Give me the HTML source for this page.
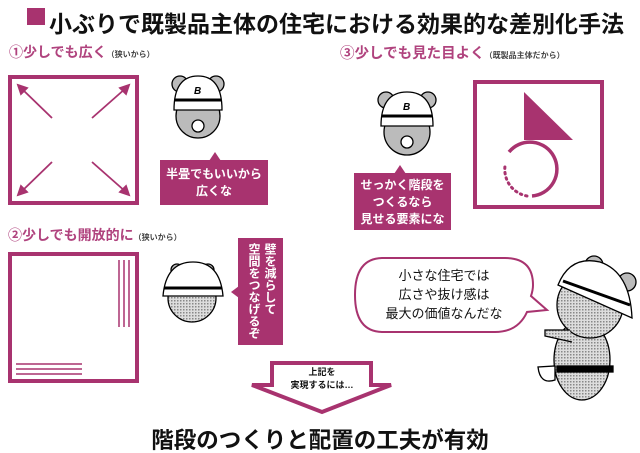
<!DOCTYPE html>
<html><head><meta charset="utf-8"><style>
body{margin:0;background:#fff;}
#c{position:relative;width:640px;height:453px;overflow:hidden;font-family:"Liberation Sans","Noto Sans CJK JP",sans-serif;}
.t{position:absolute;white-space:nowrap;}
</style></head><body><div id="c">
<svg width="640" height="453" style="position:absolute;left:0;top:0">
<defs>
<pattern id="ck" width="3" height="3" patternUnits="userSpaceOnUse"><rect width="3" height="3" fill="#ddd"/><rect width="1.5" height="1.5" fill="#888"/></pattern>
</defs>
<rect x="27" y="8" width="18" height="17" fill="#a8336f"/>
<rect x="10" y="77" width="127" height="126" fill="none" stroke="#a8336f" stroke-width="4"/>
<g stroke="#a8336f" stroke-width="1.8" fill="#a8336f">
<line x1="52" y1="118" x2="21" y2="88"/><line x1="92" y1="118" x2="126" y2="88"/>
<line x1="52" y1="162" x2="21" y2="192"/><line x1="92" y1="162" x2="126" y2="192"/>
<polygon points="18,85 27,88 21,94"/><polygon points="129,85 120,88 126,94"/>
<polygon points="18,195 27,192 21,186"/><polygon points="129,195 120,192 126,186"/>
</g>
<rect x="160" y="160" width="108" height="45" fill="#a8336f"/><polygon points="209,161 221,161 215,152" fill="#a8336f"/>
<g stroke="#000" stroke-width="1.3">
<circle cx="180" cy="84" r="8" fill="#bbb"/><circle cx="216" cy="84" r="8" fill="#bbb"/>
<circle cx="198" cy="116" r="22" fill="#bbb"/>
<path d="M174 110 Q174 76 198 76 Q222 76 222 110 Z" fill="#fff"/>
<line x1="175" y1="100" x2="221" y2="100" stroke-width="3"/>
<circle cx="198" cy="126" r="6" fill="#fff"/>
</g>
<text x="194" y="94" font-size="10" font-weight="bold" font-style="italic">B</text>
<g stroke="#000" stroke-width="1.3">
<circle cx="386" cy="100" r="8" fill="#bbb"/><circle cx="428" cy="100" r="8" fill="#bbb"/>
<circle cx="407" cy="132" r="23" fill="#bbb"/>
<path d="M381 126 Q381 92 407 92 Q433 92 433 126 Z" fill="#fff"/>
<line x1="382" y1="116" x2="432" y2="116" stroke-width="3"/>
<circle cx="407" cy="142" r="6" fill="#fff"/>
</g>
<text x="403" y="110" font-size="10" font-weight="bold" font-style="italic">B</text>
<rect x="354" y="173" width="97" height="57" fill="#a8336f"/><polygon points="394,174 406,174 400,165" fill="#a8336f"/>
<rect x="475" y="82" width="127" height="125" fill="none" stroke="#a8336f" stroke-width="4"/>
<polygon points="524,92 573,140 524,140" fill="#a8336f"/>
<path d="M509 152 A27 27 0 1 1 532 196" fill="none" stroke="#a8336f" stroke-width="3.5"/>
<path d="M527 196 A27 27 0 0 1 505 166" fill="none" stroke="#a8336f" stroke-width="3" stroke-dasharray="1.5 4" stroke-linecap="round"/>
<rect x="10" y="254" width="127" height="127" fill="none" stroke="#a8336f" stroke-width="4"/>
<g stroke="#a8336f" stroke-width="1.5"><line x1="119" y1="260" x2="119" y2="327"/><line x1="124" y1="260" x2="124" y2="327"/><line x1="129" y1="260" x2="129" y2="327"/>
<line x1="16" y1="364" x2="82" y2="364"/><line x1="16" y1="369" x2="82" y2="369"/><line x1="16" y1="374" x2="82" y2="374"/></g>
<g stroke="#000" stroke-width="1.3">
<circle cx="177" cy="270" r="6" fill="#bbb"/><circle cx="208" cy="270" r="6" fill="#bbb"/>
<ellipse cx="192" cy="298" rx="24" ry="24" fill="url(#ck)"/>
<path d="M163 296 Q166 262 193 262 Q220 262 223 296 Z" fill="#fff"/>
<line x1="164" y1="288" x2="222" y2="288" stroke-width="3"/>
</g>
<rect x="238" y="238" width="45" height="107" fill="#a8336f"/><polygon points="239,286 239,298 231,292" fill="#a8336f"/>
<path d="M383 258 L505 258 Q533 258 533 285 Q533 290 531 296 L547 310 L527 312 Q518 332 495 332 L383 332 Q355 332 355 295 Q355 258 383 258 Z" fill="#fff" stroke="#a8336f" stroke-width="2"/>
<g stroke="#000" stroke-width="1.3">
<ellipse cx="582" cy="360" rx="28" ry="40" fill="url(#ck)"/>
<circle cx="594" cy="265" r="9" fill="#bbb"/><circle cx="627" cy="282" r="9" fill="#bbb"/>
<circle cx="590" cy="305" r="33" fill="url(#ck)"/>
<path d="M558 285 Q570 255 600 262 Q630 272 632 318 Z" fill="#fff"/>
<line x1="563" y1="281" x2="630" y2="305" stroke-width="3"/>
<path d="M570 330 L545 330 L545 336 L572 342" fill="url(#ck)"/>
<rect x="557" y="366" width="56" height="6" fill="#000"/>
<path d="M538 367 Q540 385 555 380 L555 366 Z" fill="#fff"/>
</g>
<polygon points="272,363 371,363 371,385 391,385 322,412 252,385 272,385" fill="#fff" stroke="#a8336f" stroke-width="4" stroke-linejoin="miter"/>
</svg>
<div class="t" style="left:49px;top:5px;font-size:23px;font-weight:bold;color:#111;">小ぶりで既製品主体の住宅における効果的な差別化手法</div>
<div class="t" style="left:9px;top:42px;font-size:14px;font-weight:bold;color:#b0437e;">①少しでも広く<span style="font-size:8px;color:#444;">（狭いから）</span></div>
<div class="t" style="left:340px;top:42px;font-size:14.5px;font-weight:bold;color:#b0437e;">③少しでも見た目よく<span style="font-size:8px;color:#444;">（既製品主体だから）</span></div>
<div class="t" style="left:8px;top:225px;font-size:14px;font-weight:bold;color:#b0437e;">②少しでも開放的に<span style="font-size:8px;color:#444;">（狭いから）</span></div>
<div class="t" style="left:160px;top:166px;width:108px;text-align:center;font-size:12px;font-weight:bold;color:#fff;line-height:17px;">半畳でもいいから<br>広くな</div>
<div class="t" style="left:354px;top:177px;width:97px;text-align:center;font-size:12px;font-weight:bold;color:#fff;line-height:17px;">せっかく階段を<br>つくるなら<br>見せる要素にな</div>
<div class="t" style="left:246px;top:243px;height:100px;writing-mode:vertical-rl;font-size:12px;font-weight:bold;color:#fff;line-height:16px;">壁を減らして<br>空間をつなげるぞ</div>
<div class="t" style="left:355px;top:266px;width:178px;text-align:center;font-size:13px;color:#111;line-height:19px;">小さな住宅では<br>広さや抜け感は<br>最大の価値なんだな</div>
<div class="t" style="left:272px;top:366px;width:100px;text-align:center;font-size:9px;font-weight:bold;color:#111;line-height:13px;">上記を<br>実現するには…</div>
<div class="t" style="left:0;top:423px;width:640px;text-align:center;font-size:22.5px;font-weight:bold;color:#111;">階段のつくりと配置の工夫が有効</div>
</div></body></html>
